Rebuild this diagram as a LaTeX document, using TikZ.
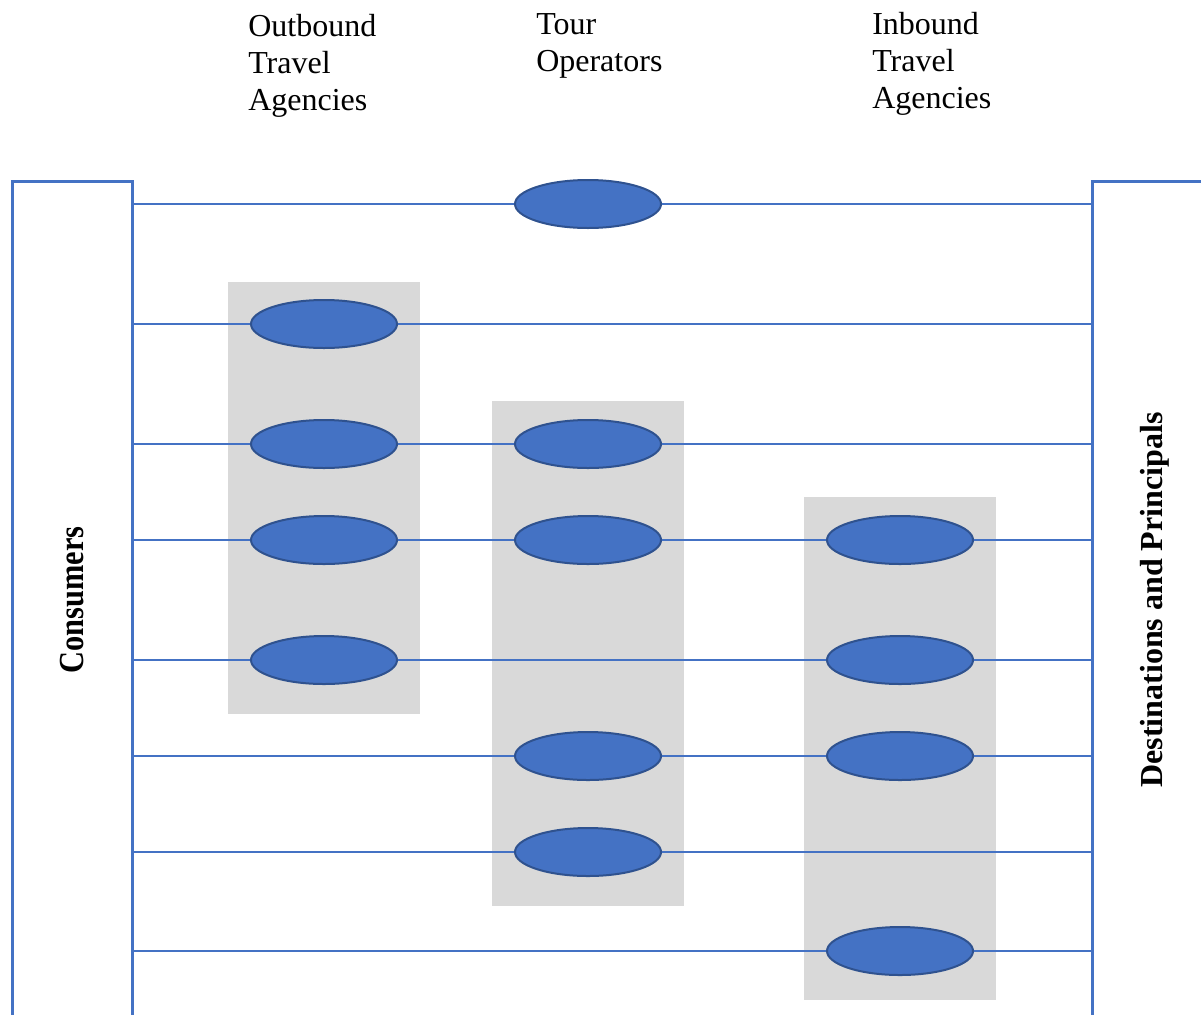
\documentclass[tikz,border=0pt]{standalone}
\usepackage{fontspec}
\setmainfont{Liberation Serif}
\usetikzlibrary{shapes.geometric}
\definecolor{accent}{HTML}{4472C4}
\definecolor{accentdark}{HTML}{2F528F}
\definecolor{band}{HTML}{D9D9D9}
\tikzset{
  panel/.style={draw=accent, line width=3pt*0.75},
  link/.style={draw=accent, line width=1.4pt*0.75},
  group/.style={fill=band, draw=none},
  actor/.style={ellipse, fill=accent, draw=accentdark, line width=2pt*0.75,
    minimum width=109.5pt, minimum height=36pt, inner sep=0pt},
  heading/.style={anchor=north west, inner sep=0pt, align=left,
    font=\fontsize{24}{27.75}\selectfont},
  sidelabel/.style={rotate=90, inner sep=0pt,
    font=\fontsize{24}{27.75}\selectfont\bfseries}
}
\begin{document}
\begin{tikzpicture}[x=0.75pt, y=-0.75pt]
\useasboundingbox (0,0) rectangle (1201,1014);
\clip (0,0) rectangle (1201,1014);

% column headings
\node[heading] (hout) at (248,14) {Outbound\\Travel\\Agencies};
\node[heading] (htour) at (536,13) {Tour\\Operators};
\node[heading] (hin) at (872,12) {Inbound\\Travel\\Agencies};

% grey bands behind each intermediary group
\node[group, minimum width=144pt, minimum height=324pt, inner sep=0pt, anchor=north west] (gout) at (228,282) {};
\node[group, minimum width=144pt, minimum height=378.75pt, inner sep=0pt, anchor=north west] (gtour) at (492,401) {};
\node[group, minimum width=144pt, minimum height=377.25pt, inner sep=0pt, anchor=north west] (gin) at (804,497) {};

% end panels
\draw[panel] (12,1030) -- (12,181) -- (132,181) -- (132,1030);
\draw[panel] (1092,1030) -- (1092,181) -- (1210,181);
\node[sidelabel] (cons) at (72,600) {\scalebox{0.95}[1.1]{Consumers}};
\node[sidelabel] (dest) at (1155,600) {Destinations and Principals};

% distribution channels
\foreach \i/\y in {1/204,2/324,3/444,4/540,5/660,6/756,7/852,8/951}{
  \coordinate (L\i) at (132,\y);
  \coordinate (R\i) at (1092,\y);
  \draw[link] (L\i) -- (R\i);
}

% intermediaries on each channel
\node[actor] (t1) at (588,204) {};
\node[actor] (o2) at (324,324) {};
\node[actor] (o3) at (324,444) {};
\node[actor] (o4) at (324,540) {};
\node[actor] (o5) at (324,660) {};
\node[actor] (t3) at (588,444) {};
\node[actor] (t4) at (588,540) {};
\node[actor] (t6) at (588,756) {};
\node[actor] (t7) at (588,852) {};
\node[actor] (i4) at (900,540) {};
\node[actor] (i5) at (900,660) {};
\node[actor] (i6) at (900,756) {};
\node[actor] (i8) at (900,951) {};
\end{tikzpicture}
\end{document}
